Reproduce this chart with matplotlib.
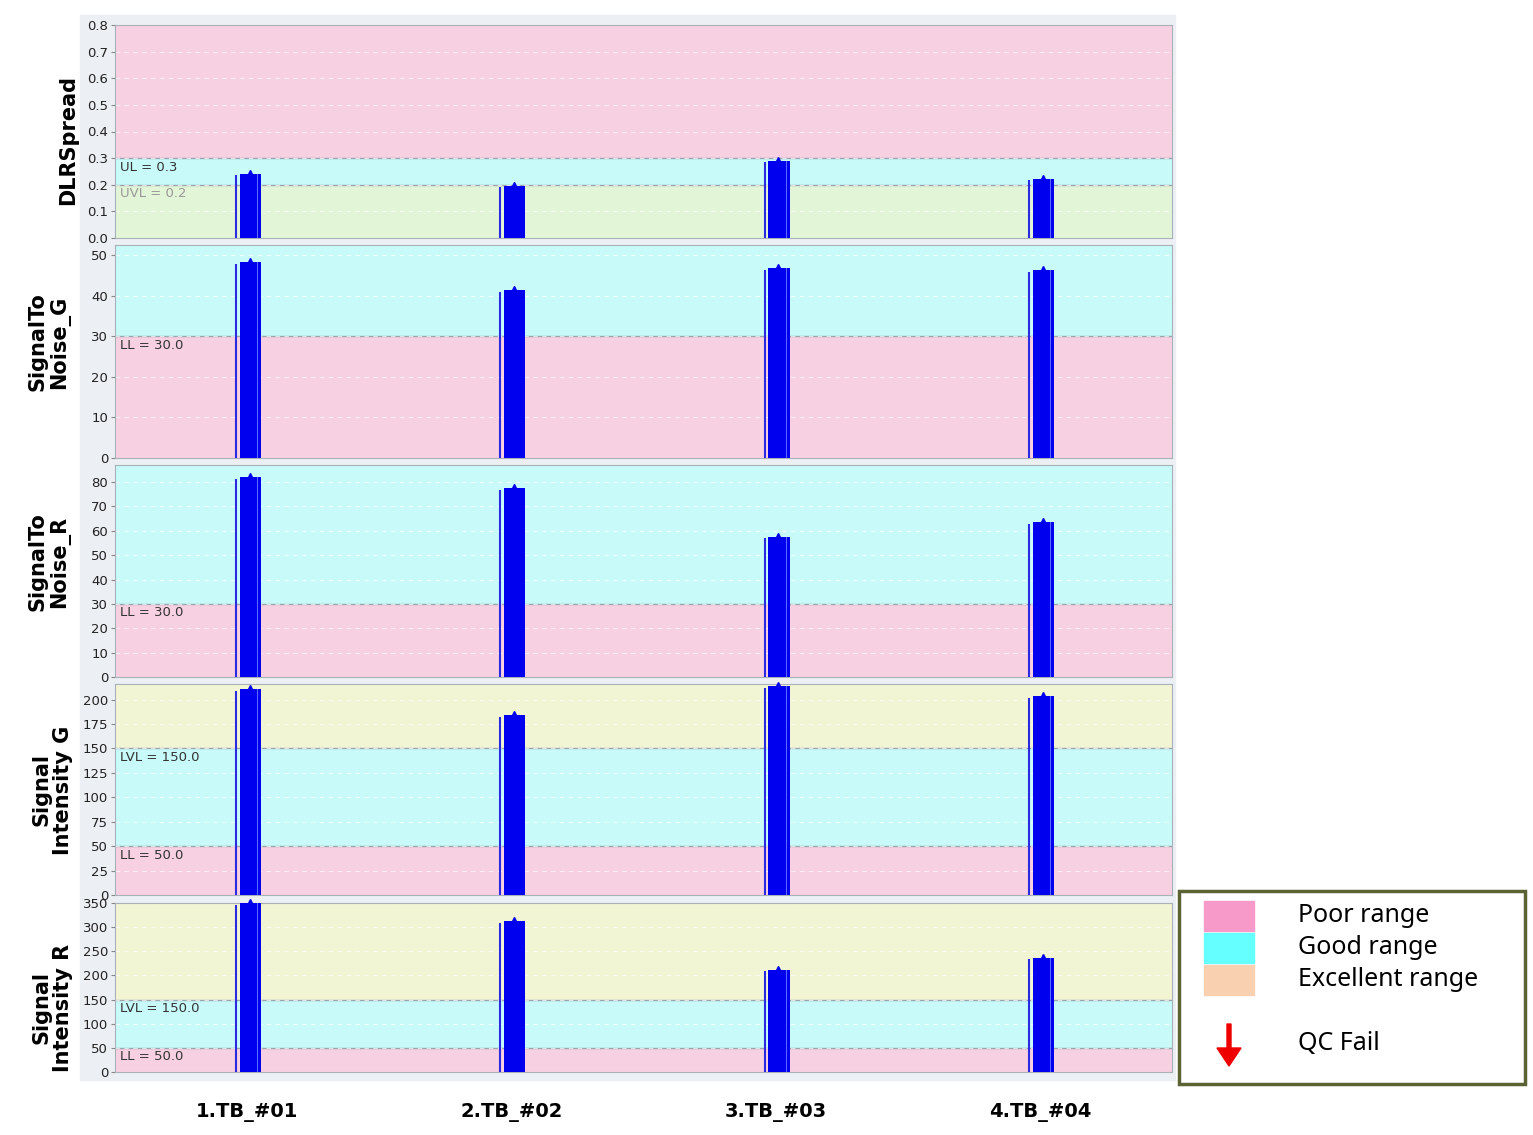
import numpy as np
import matplotlib
matplotlib.use("Agg")
import matplotlib.pyplot as plt
from matplotlib.patches import Rectangle, FancyArrow

plt.rcParams['font.family'] = ['Noto Sans', 'DejaVu Sans']

# data
samples = ["1.TB_#01", "2.TB_#02", "3.TB_#03", "4.TB_#04"]
dlr_spread = [0.24, 0.195, 0.29, 0.22]
snr_g = [48.3, 41.3, 46.8, 46.3]
snr_r = [82.0, 77.5, 57.5, 63.5]
sig_g = [211, 184, 214, 204]
sig_r = [350, 312, 212, 237]

panel_names = ["DLRSpread", "SignalTo\nNoise_G", "SignalTo\nNoise_R",
               "Signal\nIntensity G", "Signal\nIntensity R"]
panel_values = [dlr_spread, snr_g, snr_r, sig_g, sig_r]
panel_ylim = [0.8, 52.5, 87, 216, 350]
panel_ticks = [np.arange(0, 0.81, 0.1), np.arange(0, 51, 10), np.arange(0, 81, 10),
               np.arange(0, 201, 25), np.arange(0, 351, 50)]

PINK = "#f7d0e2"
CYAN = "#c8fafa"
LGREEN = "#e2f5d6"
YEL = "#f1f5d4"

# bands: (low, high, colour) and limit labels (value, text, colour)
panel_bands = [
    [(0, 0.2, LGREEN), (0.2, 0.3, CYAN), (0.3, 0.8, PINK)],
    [(0, 30, PINK), (30, 52.5, CYAN)],
    [(0, 30, PINK), (30, 87, CYAN)],
    [(0, 50, PINK), (50, 150, CYAN), (150, 216, YEL)],
    [(0, 50, PINK), (50, 150, CYAN), (150, 350, YEL)],
]
panel_limits = [
    [(0.3, "UL = 0.3", "#333333"), (0.2, "UVL = 0.2", "#999999")],
    [(30, "LL = 30.0", "#333333")],
    [(30, "LL = 30.0", "#333333")],
    [(150, "LVL = 150.0", "#333333"), (50, "LL = 50.0", "#333333")],
    [(150, "LVL = 150.0", "#333333"), (50, "LL = 50.0", "#333333")],
]

W, H = 1533, 1135
fig = plt.figure(figsize=(W / 100, H / 100), dpi=100)
fig.patches.append(Rectangle((80 / W, 1 - 1080 / H), 1095 / W, 1065 / H,
                             transform=fig.transFigure, color="#eceff4", zorder=-10))

boxes = [(25, 238), (245, 458), (465, 677), (684, 895), (903, 1072)]
label_pos = [(68, 140), (49, 342), (49, 562), (52, 790), (52, 1008)]
x = np.arange(len(samples)) + 0.5

for i in range(5):
    top, bot = boxes[i]
    ax = fig.add_axes([115 / W, 1 - bot / H, 1057 / W, (bot - top) / H])
    ymax = panel_ylim[i]
    for lo, hi, c in panel_bands[i]:
        ax.axhspan(lo, hi, color=c, zorder=0, lw=0)
    for v, txt, c in panel_limits[i]:
        ax.axhline(v, color="#9aa5ad", lw=1, zorder=1)
        ax.text(0.02, v - ymax * 0.012, txt, color=c, fontsize=9.5,
                va="top", ha="left", family="DejaVu Sans", zorder=2)
    for t in panel_ticks[i][1:]:
        ax.axhline(t, color="white", lw=0.8, ls=(0, (4, 4)), alpha=0.7, zorder=1)
    vals = panel_values[i]
    ax.bar(x + 0.013, vals, width=0.08, color="#0000ee", zorder=3)
    ax.bar(x + 0.04, vals, width=0.003, color="#5a6cff", zorder=4)
    ax.vlines(x - 0.042, 0, np.array(vals) * 0.99, color="#2a2ae0", lw=1.5, zorder=3)
    ax.plot(x + 0.01, vals, ls="none", marker="^", ms=6, color="#0000ee", zorder=3,
            clip_on=False)
    ax.set_xlim(0, 4)
    ax.set_ylim(0, ymax)
    ax.set_yticks(panel_ticks[i])
    if i == 0:
        ax.set_yticklabels([f"{t:.1f}" for t in panel_ticks[i]])
    else:
        ax.set_yticklabels([f"{t:g}" for t in panel_ticks[i]])
    ax.tick_params(axis="y", labelsize=9.5, length=3, colors="#222222",
                   pad=2, color="#888888", labelfontfamily="DejaVu Sans")
    ax.set_xticks([])
    for s in ax.spines.values():
        s.set_color("#a8b0b8")
    lx, ly = label_pos[i]
    fig.text(lx / W, 1 - ly / H, panel_names[i], rotation=90, ha="center",
             va="center", fontsize=15, fontweight="bold", linespacing=1.1,
             family="DejaVu Sans")

for xi, name in zip(x, samples):
    fig.text((115 + xi * 264.25) / W, 1 - 1112 / H, name, ha="center",
             va="center", fontsize=14, fontweight="bold", family="DejaVu Sans")

# legend box
fig.patches.append(Rectangle((1179 / W, 1 - 1084 / H), 346 / W, 193 / H,
                             transform=fig.transFigure, fill=False,
                             ec="#5b6233", lw=2.5))
leg_items = [("Poor range", "#f799c9", 916), ("Good range", "#66ffff", 948),
             ("Excellent range", "#f9d0b0", 980)]
for txt, c, y in leg_items:
    fig.patches.append(Rectangle((1204 / W, 1 - (y + 15) / H), 50 / W, 30 / H,
                                 transform=fig.transFigure, color=c))
    fig.text(1298 / W, 1 - y / H, txt, fontsize=18, va="center", ha="left")
fig.patches.append(FancyArrow(1229 / W, 1 - 1024 / H, 0, -42 / H, width=4 / W,
                              head_width=24 / W, head_length=18 / H,
                              length_includes_head=True, transform=fig.transFigure,
                              color="#ee0000"))
fig.text(1298 / W, 1 - 1044 / H, "QC Fail", fontsize=18, va="center", ha="left")

fig.savefig("out.png", dpi=100, facecolor="white")
